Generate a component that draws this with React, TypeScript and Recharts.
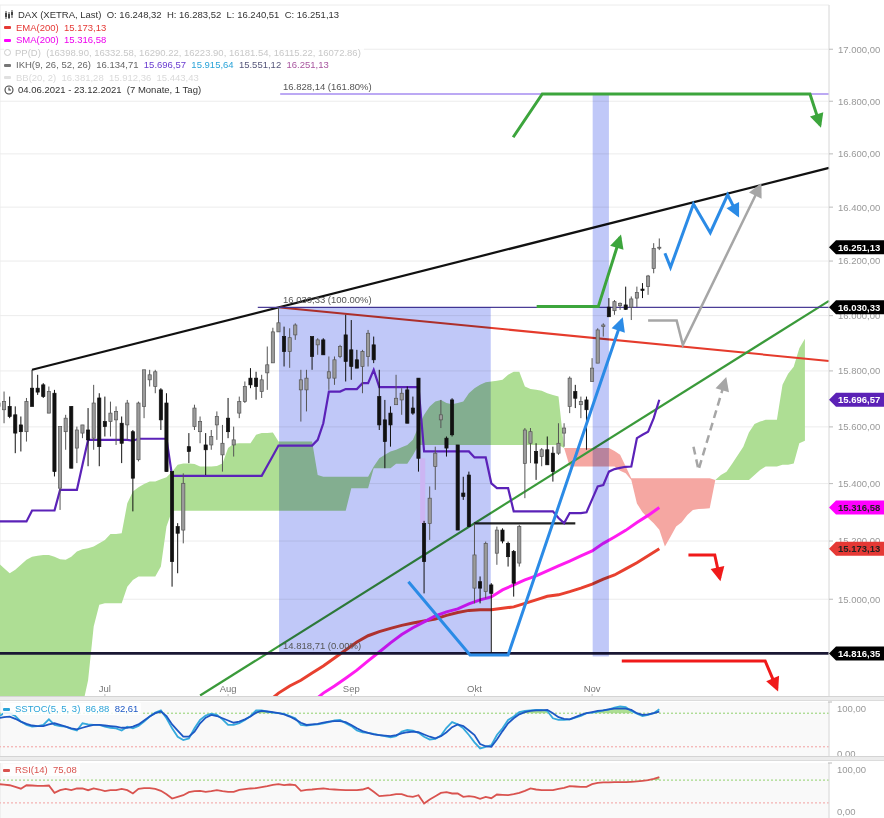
import React from 'react'
import {
  ComposedChart,
  Line,
  Area,
  Bar,
  XAxis,
  YAxis,
  CartesianGrid,
  ReferenceLine,
  ReferenceArea,
  ReferenceDot,
} from 'recharts'

const FONT = '"Liberation Sans", Arial, Helvetica, sans-serif'

// x = trading day index, 0 = 04.06.2021, 118 = 17.11.2021 (last candle); cloud runs 26 days ahead
const monthStarts = [19, 41, 63, 85, 106]
const monthNames = ['Jul', 'Aug', 'Sep', 'Okt', 'Nov']
const priceTicks = [15000, 15200, 15400, 15600, 15800, 16000, 16200, 16400, 16600, 16800, 17000]
const X_DOMAIN: [number, number] = [0.27, 148.3]
const Y_DOMAIN: [number, number] = [14670, 17172]

// open, high, low, close
const candles: number[][] = [
  [15673, 15720, 15631, 15685], [15661, 15726, 15613, 15690], [15673, 15708, 15631, 15637], [15643, 15673, 15507, 15578], [15607, 15637, 15513, 15583],
  [15583, 15703, 15548, 15690], [15738, 15804, 15673, 15673], [15738, 15786, 15714, 15724], [15750, 15756, 15703, 15708], [15649, 15744, 15649, 15726],
  [15720, 15732, 15425, 15442], [15384, 15601, 15308, 15601], [15583, 15643, 15519, 15631], [15673, 15673, 15454, 15454], [15525, 15601, 15472, 15589],
  [15578, 15607, 15560, 15607], [15589, 15667, 15461, 15554], [15560, 15750, 15519, 15685], [15703, 15720, 15461, 15530], [15619, 15708, 15566, 15601],
  [15619, 15690, 15566, 15649], [15625, 15673, 15536, 15655], [15613, 15637, 15472, 15542], [15607, 15696, 15554, 15685], [15583, 15589, 15303, 15419],
  [15484, 15690, 15478, 15685], [15673, 15804, 15631, 15804], [15768, 15804, 15744, 15786], [15744, 15804, 15720, 15797], [15732, 15738, 15589, 15625],
  [15685, 15720, 15442, 15442], [15442, 15442, 15043, 15129], [15250, 15262, 15089, 15227], [15238, 15436, 15192, 15401], [15530, 15578, 15472, 15513],
  [15601, 15679, 15589, 15667], [15583, 15637, 15542, 15619], [15536, 15578, 15430, 15519], [15536, 15589, 15519, 15566], [15607, 15655, 15554, 15637],
  [15501, 15607, 15442, 15542], [15631, 15703, 15560, 15583], [15536, 15601, 15495, 15554], [15649, 15708, 15631, 15690], [15690, 15762, 15685, 15744],
  [15774, 15810, 15738, 15750], [15774, 15797, 15697, 15744], [15726, 15786, 15703, 15768], [15793, 15888, 15732, 15822], [15829, 15956, 15829, 15941],
  [15941, 16030.33, 15941, 15974], [15924, 15960, 15816, 15870], [15870, 15954, 15811, 15920], [15930, 15972, 15912, 15966], [15732, 15804, 15619, 15768],
  [15732, 15804, 15655, 15774], [15924, 15924, 15804, 15852], [15894, 15918, 15858, 15912], [15912, 15918, 15858, 15858], [15774, 15852, 15732, 15797],
  [15774, 15852, 15750, 15840], [15852, 15894, 15846, 15888], [15930, 16003, 15762, 15834], [15876, 15984, 15768, 15816], [15840, 15876, 15810, 15810],
  [15816, 15876, 15720, 15870], [15852, 15948, 15816, 15936], [15894, 15924, 15828, 15840], [15708, 15804, 15589, 15607], [15625, 15696, 15454, 15548],
  [15649, 15673, 15530, 15607], [15679, 15786, 15679, 15702], [15696, 15738, 15643, 15720], [15732, 15744, 15613, 15613], [15667, 15708, 15643, 15649],
  [15774, 15774, 15442, 15489], [15261, 15270, 15020, 15129], [15261, 15390, 15204, 15349], [15460, 15530, 15378, 15507], [15625, 15696, 15596, 15643],
  [15560, 15566, 15495, 15525], [15696, 15702, 15566, 15572], [15536, 15536, 15238, 15238], [15367, 15424, 15343, 15355], [15430, 15442, 15250, 15250],
  [15038, 15261, 14986, 15152], [15060, 15078, 14986, 15038], [15026, 15198, 15003, 15192], [15049, 15055, 14818.71, 15020], [15158, 15250, 15118, 15238],
  [15238, 15244, 15192, 15200], [15192, 15198, 15112, 15146], [15164, 15169, 15009, 15055], [15124, 15256, 15112, 15250], [15471, 15596, 15349, 15589],
  [15542, 15596, 15472, 15583], [15513, 15542, 15413, 15472], [15495, 15525, 15461, 15519], [15519, 15566, 15466, 15466], [15507, 15530, 15407, 15442],
  [15507, 15613, 15501, 15542], [15578, 15613, 15530, 15596], [15673, 15780, 15649, 15774], [15726, 15750, 15667, 15702], [15679, 15708, 15631, 15690],
  [15696, 15708, 15519, 15661], [15762, 15846, 15762, 15810], [15828, 15954, 15828, 15948], [15960, 15972, 15924, 15966], [16031, 16064, 15996, 15996],
  [16018, 16057, 16003, 16051], [16036, 16048, 16021, 16045], [16039, 16106, 16021, 16023], [16031, 16070, 15984, 16061], [16064, 16106, 16031, 16084],
  [16097, 16119, 16064, 16092], [16106, 16149, 16076, 16145], [16173, 16266, 16155, 16247], [16248.32, 16283.52, 16240.51, 16251.13],
]

// IKH base line
const ikhBase = [
  15268, 15268, 15268, 15268, 15268, 15268, 15306, 15306, 15306, 15306,
  15306, 15378, 15378, 15378, 15378, 15466, 15554, 15554, 15554, 15554,
  15554, 15554, 15554, 15554, 15551, 15558, 15558, 15558, 15558, 15558,
  15558, 15427, 15427, 15427, 15427, 15427, 15427, 15427, 15427, 15427,
  15427, 15427, 15427, 15427, 15427, 15427, 15427, 15427, 15463, 15498,
  15534, 15534, 15534, 15534, 15534, 15534, 15534, 15554, 15613, 15726,
  15726, 15726, 15735, 15735, 15735, 15756, 15756, 15804, 15742, 15742,
  15742, 15742, 15742, 15742, 15742, 15742, 15513, 15513, 15513, 15513,
  15513, 15513, 15513, 15513, 15513, 15492, 15492, 15492, 15401, 15384,
  15384, 15384, 15303, 15303, 15303, 15303, 15303, 15303, 15303, 15303,
  15280, 15262, 15297, 15297, 15297, 15300, 15345, 15390, 15395, 15442,
  15451, 15455, 15459, 15460, 15560, 15572, 15583, 15631, 15696.57,
]

// Senkou span A / B, index 0..144
const spanA = [
  15124, 15106, 15089, 15101, 15118, 15135, 15146, 15149, 15152, 15152,
  15146, 15137, 15135, 15146, 15164, 15172, 15175, 15181, 15192, 15204,
  15224, 15224, 15227, 15331, 15372, 15387, 15399, 15407, 15407, 15415,
  15422, 15442, 15466, 15471, 15471, 15469, 15460, 15460, 15460, 15462,
  15471, 15525, 15540, 15542, 15542, 15542, 15572, 15578, 15578, 15580,
  15548, 15548, 15548, 15548, 15548, 15548, 15548, 15430, 15424, 15424,
  15424, 15424, 15424, 15424, 15424, 15424, 15424, 15460, 15489, 15501,
  15513, 15519, 15528, 15536, 15554, 15601, 15643, 15673, 15690, 15696,
  15685, 15681, 15685, 15690, 15720, 15738, 15750, 15759, 15762, 15765,
  15768, 15786, 15797, 15797, 15744, 15735, 15732, 15729, 15720, 15714,
  15708, 15525, 15460, 15460, 15460, 15460, 15460, 15460, 15460, 15460,
  15460, 15445, 15436, 15413, 15330, 15300, 15280, 15262, 15239, 15181,
  15215, 15250, 15265, 15290, 15308, 15311, 15312, 15314, 15413, 15430,
  15442, 15470, 15500, 15530, 15580, 15610, 15619, 15625, 15625, 15625,
  15750, 15790, 15815, 15882, 15915.64,
]
const spanB = [
  14550, 14550, 14550, 14550, 14550, 14550, 14550, 14550, 14550, 14550,
  14550, 14550, 14550, 14550, 14550, 14640, 14726, 14907, 14981, 14986,
  14986, 14986, 14986, 15043, 15066, 15078, 15078, 15078, 15078, 15112,
  15250, 15305, 15305, 15305, 15305, 15305, 15305, 15305, 15305, 15305,
  15305, 15305, 15305, 15305, 15305, 15305, 15305, 15305, 15305, 15305,
  15305, 15305, 15305, 15305, 15305, 15305, 15305, 15305, 15305, 15305,
  15305, 15305, 15305, 15384, 15384, 15384, 15384, 15454, 15454, 15454,
  15454, 15470, 15470, 15470, 15500, 15536, 15536, 15536, 15536, 15536,
  15536, 15536, 15536, 15536, 15536, 15536, 15536, 15536, 15536, 15536,
  15536, 15536, 15536, 15536, 15536, 15536, 15536, 15536, 15536, 15536,
  15536, 15525, 15525, 15525, 15525, 15525, 15525, 15525, 15525, 15525,
  15515, 15501, 15460, 15419, 15419, 15419, 15419, 15419, 15419, 15419,
  15419, 15419, 15419, 15419, 15419, 15419, 15419, 15419, 15413, 15413,
  15413, 15413, 15413, 15413, 15413, 15430, 15448, 15460, 15460, 15460,
  15466, 15466, 15471, 15542, 15551.12,
]

// [day, value]
const ema200 = [
  [46, 14620], [48, 14652], [50, 14683], [52, 14707], [54, 14726], [56, 14750], [58, 14774], [60, 14801], [62, 14828],
  [64, 14855], [66, 14876], [68, 14890], [70, 14901], [72, 14911], [74, 14919], [76, 14926], [78, 14933], [80, 14945],
  [82, 14955], [84, 14962], [86, 14964], [88, 14964], [90, 14969], [92, 14974], [94, 14986], [96, 14998], [98, 15010],
  [100, 15015], [102, 15026], [104, 15038], [106, 15052], [108, 15069], [110, 15083], [112, 15104], [114, 15125],
  [116, 15149], [118, 15173.13],
]
const sma200 = [
  [54, 14620], [56, 14652], [58, 14683], [60, 14707], [62, 14733], [64, 14760], [66, 14791], [68, 14821], [70, 14852],
  [72, 14880], [74, 14903], [76, 14923], [78, 14943], [80, 14957], [82, 14967], [84, 14984], [86, 14998], [88, 15008],
  [90, 15032], [92, 15049], [94, 15066], [96, 15080], [98, 15097], [100, 15114], [102, 15131], [104, 15149],
  [106, 15166], [108, 15192], [110, 15214], [112, 15237], [114, 15264], [116, 15289], [118, 15316.58],
]

const stocK = [
  74, 80, 80, 75, 65, 59, 56, 57, 59, 69, 59, 57, 56, 52, 49, 62, 60, 59, 59, 56,
  54, 53, 49, 56, 53, 57, 65, 74, 81, 85, 71, 53, 38, 32, 35, 53, 68, 76, 79, 77,
  69, 59, 59, 62, 68, 75, 85, 85, 83, 81, 80, 79, 75, 71, 59, 58, 59, 60, 62, 64,
  67, 68, 62, 57, 49, 46, 45, 43, 41, 39, 37, 39, 47, 50, 49, 45, 38, 33, 34, 40,
  54, 64, 60, 53, 41, 28, 17, 20, 23, 41, 53, 68, 74, 82, 84, 85, 86, 86, 84, 71,
  68, 68, 69, 72, 75, 80, 81, 83, 85, 87, 90, 92, 91, 84, 79, 75, 77, 80, 86.88,
]
const stocD = [
  71, 73, 74, 70, 65, 61, 58, 57, 57, 60, 62, 59, 56, 53, 51, 54, 57, 59, 59, 58,
  57, 56, 54, 54, 56, 60, 67, 74, 80, 83, 75, 60, 49, 38, 38, 47, 62, 72, 77, 75,
  71, 67, 63, 65, 69, 74, 81, 84, 83, 82, 80, 78, 74, 69, 63, 59, 60, 61, 63, 65,
  66, 66, 64, 59, 53, 48, 45, 42, 41, 40, 39, 41, 44, 46, 47, 46, 42, 38, 35, 39,
  46, 55, 60, 57, 49, 41, 25, 21, 20, 33, 48, 62, 71, 78, 82, 84, 85, 85, 86, 80,
  73, 70, 69, 73, 77, 80, 82, 84, 85, 87, 88, 88, 88, 86, 80, 77, 78, 80, 82.61,
]
const rsi14 = [
  63, 62, 61, 58, 55, 61, 60.5, 60, 60, 60.5, 47.6, 52.3, 54.7, 52.3, 55.3, 55.3, 52.3, 55.3, 53.5, 50.6,
  52.3, 52.3, 54.7, 52.3, 46.5, 54.7, 55.9, 55.9, 54.7, 51.2, 45.3, 37.6, 40.6, 43.5, 48.8, 50.6, 51.2, 49.4, 50.6, 52.3,
  50.6, 49.4, 49.4, 52.9, 54.1, 55.3, 55.9, 57.6, 59.4, 61.8, 63, 61.2, 62.3, 61.2, 51.2, 52.9, 53.5, 54.7, 55.3, 54.1,
  53.5, 52.9, 52.3, 52.3, 52.3, 53.5, 56.5, 49.4, 41.8, 42.9, 43.5, 45.3, 45.3, 41.8, 40.6, 43.5, 29, 36, 41.8, 47.6,
  48.8, 46.5, 46.5, 40.6, 41.8, 40.6, 37, 40.6, 38.2, 44.7, 44.1, 43.5, 45.3, 47.6, 51.2, 55.3, 53.5, 52.3, 52.3, 52.3,
  54.7, 56.5, 59.4, 58.8, 58.2, 58.2, 63, 65.3, 65.9, 65.9, 66.5, 66.5, 66.5, 67, 67.6, 68.8, 70, 72.3, 75.08,
]

// drawn trendlines [day, price]
const upperTrend = [[6, 15804], [148.3, 16547]]
const redTrend = [[50.3, 16030], [148.3, 15836]]
const greenTrend = [[36, 14675], [148.3, 16054]]
const neckline = [[84.9, 15261], [103, 15261]]

// hand-drawn arrows [day, price]
const blueV = [[73.2, 15060], [84.2, 14811], [91, 14811], [111.3, 15984]]
const blueZig = [[119, 16229], [120, 16177], [124.1, 16412], [127.1, 16305], [130.2, 16446], [132, 16371]]
const graySolid = [[116, 15982], [121.1, 15982], [122.2, 15894], [136, 16480]]
const grayDash = [[124.1, 15530], [125, 15448], [129.8, 15768]]
const greenLow = [[96.1, 16033], [107.1, 16033], [111, 16288]]
const greenHigh = [[91.9, 16663], [97.1, 16828], [144.9, 16828], [146.7, 16710]]
const redSmall = [[123.2, 15152], [127.9, 15152], [128.8, 15072]]
const redLow = [[111.3, 14791], [136.9, 14791], [139, 14698]]

const rows = candles.map(([o, h, l, c], k) => ({
  k, o, h, l, c, ikh: ikhBase[k], sk: stocK[k], sd: stocD[k], rsi: rsi14[k],
}))
const cloud = spanA.map((a, k) => ({ k, a, b: spanB[k] }))
const pts = (arr: number[][]) => arr.map(([k, v]) => ({ k, v }))
const seg = (arr: number[][]) => arr.map(([x, y]) => ({ x, y }))

const fmt = (v: number) => {
  const [i, d] = v.toFixed(2).split('.')
  return i.replace(/\B(?=(\d{3})+(?!\d))/g, '.') + ',' + d
}

const monthLabel = (text: string) => (p: any) => {
  const x = p.viewBox.x + p.viewBox.width / 2
  const y = p.viewBox.y + p.viewBox.height / 2
  return (
    <g>
      <line x1={x} x2={x} y1={y - 3} y2={y + 1} stroke="#bbb" />
      <text x={x} y={y - 5} textAnchor="middle" fontSize={9.5} fill="#777">{text}</text>
    </g>
  )
}

const candleShape = (p: any) => {
  const { x, y, width, height, payload } = p
  if (!payload || payload.h == null) return <g />
  const top = Math.min(y, y + height)
  const bot = Math.max(y, y + height)
  const lh = Math.log(payload.h)
  const span = lh - Math.log(payload.l)
  const at = (v: number) => (span > 0 ? top + ((lh - Math.log(v)) / span) * (bot - top) : top)
  const up = payload.c >= payload.o
  const cx = x + width / 2
  const bt = at(Math.max(payload.o, payload.c))
  const bb = at(Math.min(payload.o, payload.c))
  const col = up ? '#555' : '#111'
  return (
    <g>
      <line x1={cx} x2={cx} y1={top} y2={bot} stroke={col} strokeWidth={1} />
      <rect x={cx - 1.6} y={bt} width={3.2} height={Math.max(1, bb - bt)} fill={up ? '#9b9b9b' : '#111'} stroke={col} strokeWidth={0.7} />
    </g>
  )
}

// arrow head on the last point of a polyline
function arrowDot(color: string, n: number) {
  let px = 0
  let py = 0
  return (p: any) => {
    const { cx, cy, index } = p
    if (index < n - 1) {
      px = cx
      py = cy
      return <g key={`a${index}`} />
    }
    const a = Math.atan2(cy - py, cx - px)
    const tx = cx + Math.cos(a) * 3
    const ty = cy + Math.sin(a) * 3
    const bx = tx - Math.cos(a) * 14
    const by = ty - Math.sin(a) * 14
    const nx = -Math.sin(a) * 7
    const ny = Math.cos(a) * 7
    return <path key={`a${index}`} d={`M${tx},${ty} L${bx + nx},${by + ny} L${bx - nx},${by - ny} Z`} fill={color} />
  }
}

const bandShape = (p: any) => (
  <rect x={p.x} y={p.y} width={p.width} height={p.height} fill="#c0c8f8" style={{ mixBlendMode: 'multiply' }} />
)

const fibLabel = (text: string) => (p: any) => (
  <text x={p.viewBox.x} y={p.viewBox.y - 4} fontSize={9.5} fill="#555">{text}</text>
)

const badge = (text: string, bg: string, fg: string) => (p: any) => {
  const x = p.viewBox.x + p.viewBox.width
  const y = p.viewBox.y
  return (
    <g>
      <path d={`M${x},${y} L${x + 7},${y - 7} H884 V${y + 7} H${x + 7} Z`} fill={bg} />
      <text x={x + 9} y={y + 3.5} fontSize={9.5} fontWeight={700} fill={fg}>{text}</text>
    </g>
  )
}

const arrows: { d: number[][]; c: string; w: number; dash?: string }[] = [
  { d: blueV, c: '#2b8be6', w: 3 },
  { d: blueZig, c: '#2b8be6', w: 3 },
  { d: graySolid, c: '#a6a6a6', w: 2.5 },
  { d: grayDash, c: '#a6a6a6', w: 2.5, dash: '8 5' },
  { d: greenLow, c: '#3ca53c', w: 3 },
  { d: greenHigh, c: '#3ca53c', w: 3 },
  { d: redSmall, c: '#f01a1a', w: 3 },
  { d: redLow, c: '#f01a1a', w: 3 },
]

function MainChart() {
  return (
    <ComposedChart width={884} height={700} data={rows} margin={{ top: 5, right: 0, bottom: 3, left: 0 }}>
      <CartesianGrid stroke="#ececec" />
      <XAxis type="number" dataKey="k" domain={X_DOMAIN} allowDataOverflow ticks={monthStarts} interval={0}
        height={0} axisLine={false} tickLine={false} tick={false} />
      <YAxis orientation="right" scale="log" domain={Y_DOMAIN} allowDataOverflow ticks={priceTicks} interval={0}
        tickFormatter={fmt} width={55} tick={{ fontSize: 9.5, fill: '#999' }} tickSize={4} tickMargin={5}
        axisLine={{ stroke: '#e0e0e0' }} tickLine={{ stroke: '#bbb' }} />

      <Area data={cloud} dataKey={(d: any) => (d.a >= d.b ? [d.b, d.a] : null)} type="linear" stroke="none"
        fill="#aede94" fillOpacity={1} isAnimationActive={false} zIndex={100} />
      <Area data={cloud} dataKey={(d: any) => (d.a <= d.b ? [d.a, d.b] : null)} type="linear" stroke="none"
        fill="#f5a7a2" fillOpacity={1} isAnimationActive={false} zIndex={100} />

      <Line data={pts(ema200)} dataKey="v" stroke="#e8402f" strokeWidth={3} dot={false} activeDot={false}
        isAnimationActive={false} zIndex={101} />
      <Line data={pts(sma200)} dataKey="v" stroke="#ff1cf0" strokeWidth={3} dot={false} activeDot={false}
        isAnimationActive={false} zIndex={102} />

      <ReferenceLine segment={seg(upperTrend)} stroke="#111" strokeWidth={2.2} zIndex={103} />
      <ReferenceLine segment={seg(redTrend)} stroke="#e53b2c" strokeWidth={2} zIndex={103} />
      <ReferenceLine segment={seg(greenTrend)} stroke="#3a9a3a" strokeWidth={2.2} zIndex={103} />
      <ReferenceLine segment={[{ x: 46.3, y: 16030.33 }, { x: 148.3, y: 16030.33 }]} stroke="#4b3d96" strokeWidth={1.2} zIndex={103} />
      <ReferenceLine segment={[{ x: 50.3, y: 16828.14 }, { x: 148.3, y: 16828.14 }]} stroke="#a68cf0" strokeWidth={1.5} zIndex={103} />
      <ReferenceLine y={14816.35} stroke="#1a1733" strokeWidth={2.6} zIndex={103} />
      <ReferenceLine segment={seg(neckline)} stroke="#222" strokeWidth={2.2} zIndex={103} />

      <ReferenceArea x1={50.1} x2={87.9} y1={14818.71} y2={16030.33} shape={bandShape} zIndex={104} />
      <ReferenceArea x1={106.1} x2={109} y1={14806} y2={16828.14} shape={bandShape} zIndex={104} />
      <ReferenceArea x1={75.3} x2={76.2} y1={15261} y2={15489} fill="#cdb3f2" fillOpacity={0.9} zIndex={105} />

      <Line dataKey="ikh" stroke="#5b22b8" strokeWidth={2.2} dot={false} activeDot={false} isAnimationActive={false} zIndex={106} />

      <Bar dataKey={(d: any) => [d.l, d.h]} barSize={4} shape={candleShape} isAnimationActive={false} zIndex={107} />

      {arrows.map((a, i) => (
        <Line key={i} data={pts(a.d)} dataKey="v" stroke={a.c} strokeWidth={a.w} strokeDasharray={a.dash}
          strokeLinejoin="miter" dot={arrowDot(a.c, a.d.length)} activeDot={false} isAnimationActive={false} zIndex={108} />
      ))}

      <ReferenceDot x={50.8} y={16030.33} r={0.01} fill="none" stroke="none" label={fibLabel('16.030,33 (100.00%)')} zIndex={109} />
      <ReferenceDot x={50.8} y={14818.71} r={0.01} fill="none" stroke="none" label={fibLabel('14.818,71 (0.00%)')} zIndex={109} />
      <ReferenceDot x={50.8} y={16828.14} r={0.01} fill="none" stroke="none" label={fibLabel('16.828,14 (161.80%)')} zIndex={109} />
      {monthStarts.map((m, i) => (
        <ReferenceDot key={m} x={m} y={Y_DOMAIN[0]} r={0.01} fill="none" stroke="none" ifOverflow="visible"
          label={monthLabel(monthNames[i])} zIndex={109} />
      ))}
    </ComposedChart>
  )
}

const badges = [
  { v: 16251.13, bg: '#000', fg: '#fff' },
  { v: 16030.33, bg: '#000', fg: '#fff' },
  { v: 15696.57, bg: '#5b21b6', fg: '#fff' },
  { v: 15316.58, bg: '#ff00ff', fg: '#222' },
  { v: 15173.13, bg: '#e53935', fg: '#222' },
  { v: 14816.35, bg: '#000', fg: '#fff' },
]

function BadgeLayer() {
  return (
    <ComposedChart width={884} height={700} data={rows} margin={{ top: 5, right: 0, bottom: 3, left: 0 }}>
      <XAxis type="number" dataKey="k" domain={X_DOMAIN} allowDataOverflow height={0} tick={false} axisLine={false} tickLine={false} />
      <YAxis orientation="right" scale="log" domain={Y_DOMAIN} allowDataOverflow width={55} tick={false} axisLine={false} tickLine={false} />
      <Line dataKey="c" stroke="none" dot={false} activeDot={false} isAnimationActive={false} />
      {badges.map((b) => (
        <ReferenceLine key={b.v} y={b.v} stroke="#000" strokeOpacity={0} ifOverflow="visible" label={badge(fmt(b.v), b.bg, b.fg)} />
      ))}
    </ComposedChart>
  )
}

// labels of the small panes sit just inside the pane edges
const subTick = (zeroShift: number) => ({ x, y, payload }: any) => {
  const dy = payload.value === 100 ? 6 : zeroShift
  return (
    <g>
      <line x1={x - 9} x2={x - 5} y1={y} y2={y} stroke="#bbb" />
      <text x={x} y={y + dy + 3.5} fontSize={9.5} fill="#999">{fmt(payload.value)}</text>
    </g>
  )
}

function SubChart({ dataKeys, colors, top, bottom, height, marginTop, zeroShift, fillAbove }: any) {
  return (
    <ComposedChart width={884} height={height} data={rows} margin={{ top: marginTop, right: 0, bottom: 0, left: 0 }}>
      <CartesianGrid horizontal={false} stroke="#e6e6e6" fill="#f9f9f9" />
      <XAxis type="number" dataKey="k" domain={X_DOMAIN} allowDataOverflow ticks={monthStarts} interval={0}
        height={0} tick={false} axisLine={false} tickLine={false} />
      <YAxis orientation="right" domain={[0, 100]} ticks={[0, 100]} interval={0} width={55} tick={subTick(zeroShift)}
        axisLine={{ stroke: '#e0e0e0' }} tickLine={false} />
      {fillAbove && (
        <Area dataKey={(d: any) => {
          const m = Math.max(...dataKeys.map((k: string) => d[k]))
          return m > top ? [top, m] : null
        }} type="linear" stroke="none" fill="#9bd77c" fillOpacity={0.8} isAnimationActive={false} />
      )}
      <ReferenceLine y={top} stroke="#8fd06a" strokeDasharray="2 2" />
      <ReferenceLine y={bottom} stroke="#f2a0a0" strokeDasharray="2 2" />
      {dataKeys.map((k: string, i: number) => (
        <Line key={k} dataKey={k} stroke={colors[i]} strokeWidth={1.8} dot={false} activeDot={false} isAnimationActive={false} />
      ))}
    </ComposedChart>
  )
}

const Dash = ({ color }: { color: string }) => (
  <span style={{ display: 'inline-block', width: 7, height: 3, background: color, marginRight: 5, borderRadius: 1, verticalAlign: 'middle' }} />
)

const rowStyle = (top: number): React.CSSProperties => ({
  position: 'absolute', left: 4, top, height: 12, lineHeight: '12px', fontSize: 9.5,
  whiteSpace: 'pre', background: 'rgba(255,255,255,0.85)', paddingRight: 3, color: '#333',
})

function Legend() {
  return (
    <>
      <div style={rowStyle(9)}>
        <svg width={10} height={10} style={{ marginRight: 4, verticalAlign: 'middle' }}>
          <line x1={2} x2={2} y1={1} y2={9} stroke="#444" /><rect x={1} y={3} width={2} height={4} fill="#444" />
          <line x1={5} x2={5} y1={2} y2={9} stroke="#444" /><rect x={4} y={4} width={2} height={4} fill="#444" />
          <line x1={8} x2={8} y1={0} y2={8} stroke="#444" /><rect x={7} y={2} width={2} height={3} fill="#444" />
        </svg>
        {'DAX (XETRA, Last)  O: 16.248,32  H: 16.283,52  L: 16.240,51  C: 16.251,13'}
      </div>
      <div style={{ ...rowStyle(21.5), color: '#e53935' }}><Dash color="#e53935" />{'EMA(200)  15.173,13'}</div>
      <div style={{ ...rowStyle(34), color: '#ee00ee' }}><Dash color="#ff00ff" />{'SMA(200)  15.316,58'}</div>
      <div style={{ ...rowStyle(46.5), color: '#c8c8c8' }}>
        <span style={{ display: 'inline-block', width: 7, height: 7, borderRadius: 4, border: '1px solid #ccc', marginRight: 4, boxSizing: 'border-box', verticalAlign: 'middle' }} />
        {'PP(D)  (16398.90, 16332.58, 16290.22, 16223.90, 16181.54, 16115.22, 16072.86)'}
      </div>
      <div style={{ ...rowStyle(59), color: '#666' }}>
        <Dash color="#777" />{'IKH(9, 26, 52, 26)  16.134,71  '}
        <span style={{ color: '#6a3cd0' }}>15.696,57</span>{'  '}
        <span style={{ color: '#2aa3d8' }}>15.915,64</span>{'  '}
        <span style={{ color: '#56567a' }}>15.551,12</span>{'  '}
        <span style={{ color: '#a8559f' }}>16.251,13</span>
      </div>
      <div style={{ ...rowStyle(71.5), color: '#dadada' }}><Dash color="#e0e0e0" />{'BB(20, 2)  16.381,28  15.912,36  15.443,43'}</div>
      <div style={rowStyle(84)}>
        <svg width={10} height={10} style={{ marginRight: 4, verticalAlign: 'middle' }}>
          <circle cx={5} cy={5} r={4} fill="none" stroke="#444" strokeWidth={1.1} />
          <path d="M5 2.5 V5 H7" fill="none" stroke="#444" strokeWidth={1.1} />
        </svg>
        {'04.06.2021 - 23.12.2021  (7 Monate, 1 Tag)'}
      </div>
    </>
  )
}

const sep = (top: number): React.CSSProperties => ({
  position: 'absolute', left: 0, top, width: 884, height: 3, background: '#ececec',
  borderTop: '1px solid #d4d4d4', borderBottom: '1px solid #dcdcdc',
})

export default function App() {
  return (
    <div style={{ position: 'fixed', left: 0, top: 0, width: 884, height: 818, overflow: 'hidden', background: '#fff', fontFamily: FONT }}>
      <div style={{ position: 'absolute', left: 0, top: 0 }}><MainChart /></div>
      <div style={{ position: 'absolute', left: 0, top: 0 }}><BadgeLayer /></div>
      <Legend />
      <div style={{ position: 'absolute', left: 0, top: 701 }}>
        <SubChart dataKeys={['sk', 'sd']} colors={['#35a9dc', '#1d58c4']} top={80} bottom={20} height={57}
          marginTop={1} zeroShift={-5} fillAbove />
      </div>
      <div style={{ position: 'absolute', left: 0, top: 760 }}>
        <SubChart dataKeys={['rsi']} colors={['#d9534f']} top={70} bottom={30} height={60} marginTop={3}
          zeroShift={-9} fillAbove />
      </div>
      <div style={sep(696)} />
      <div style={sep(756)} />
      <div style={{ ...rowStyle(703), left: 3, color: '#2aa3d8' }}>
        <Dash color="#2aa3d8" />{'SSTOC(5, 5, 3)  86,88  '}<span style={{ color: '#1d58c4' }}>82,61</span>
      </div>
      <div style={{ ...rowStyle(764), left: 3, color: '#d9534f' }}>
        <Dash color="#d9534f" />{'RSI(14)  75,08'}
      </div>
    </div>
  )
}
